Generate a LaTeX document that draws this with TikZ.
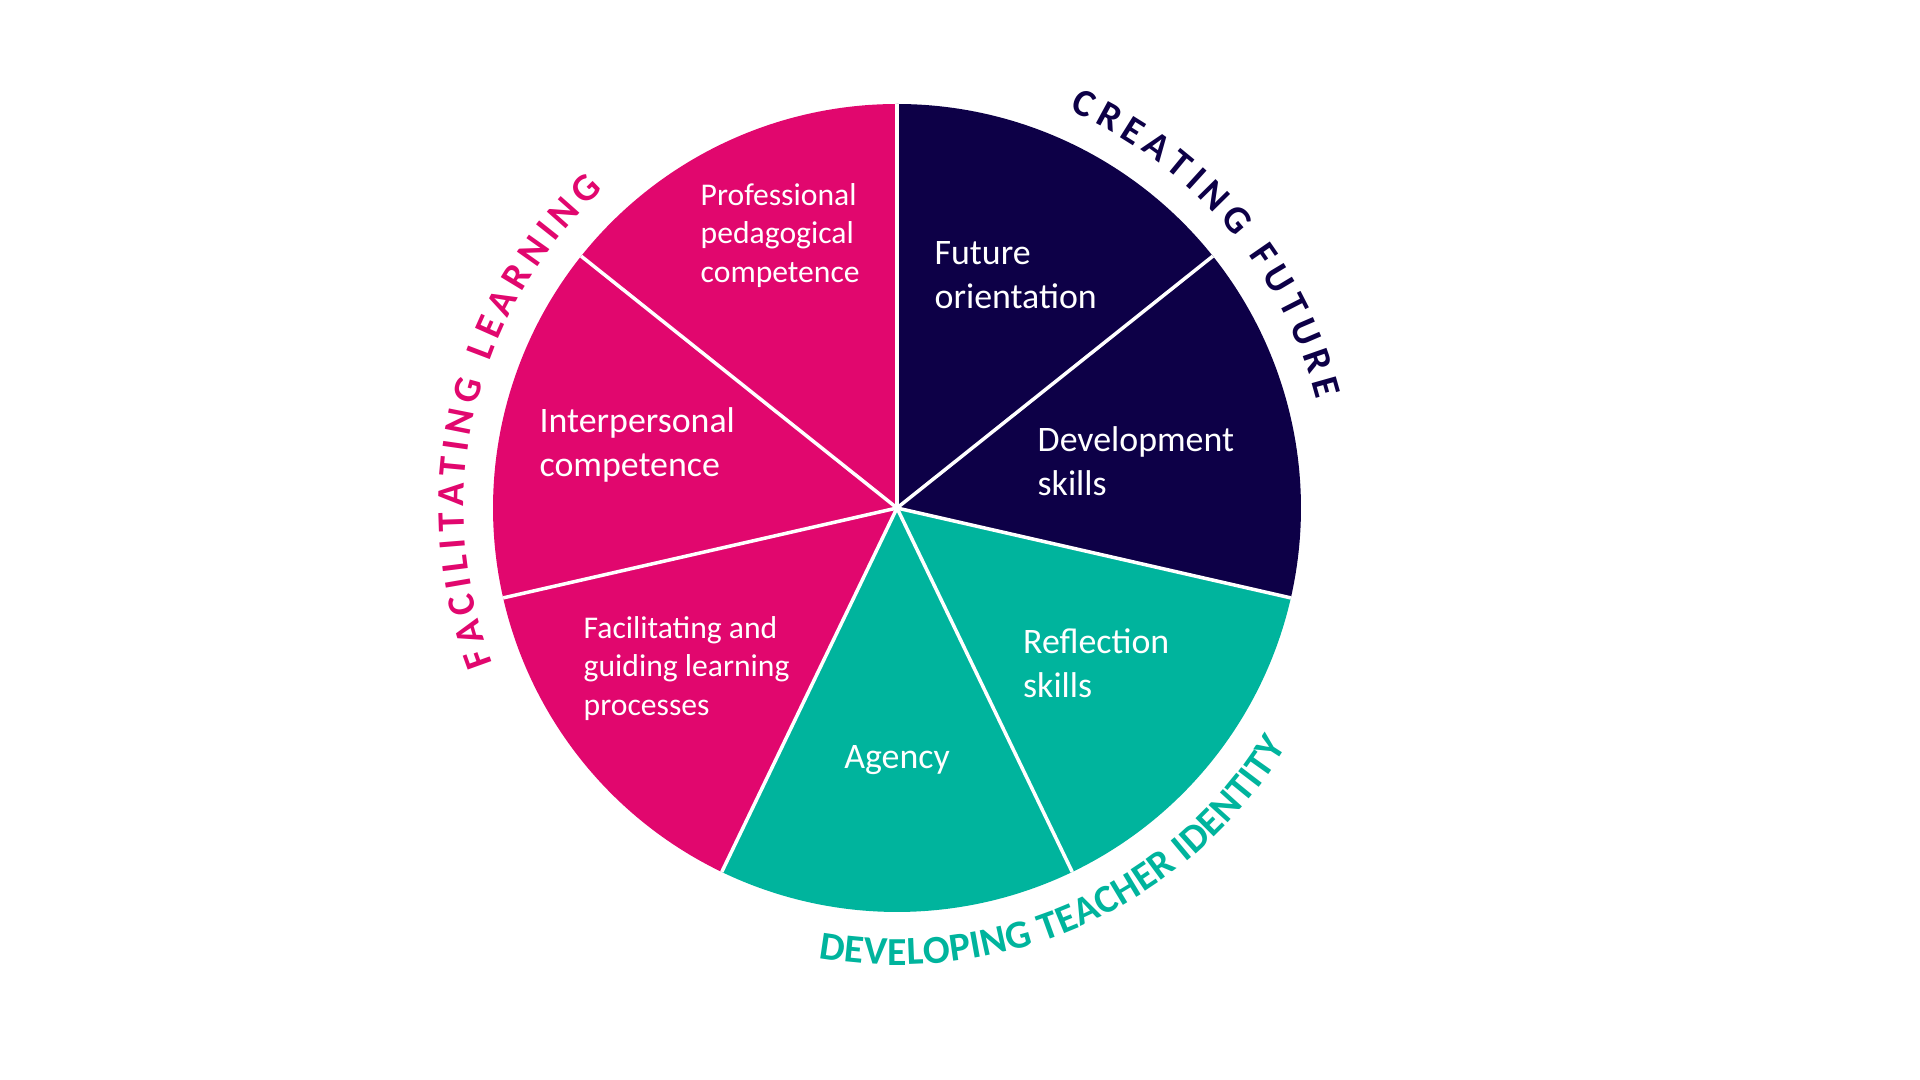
\documentclass[tikz,border=0pt]{standalone}
\usepackage{fontspec}
\setmainfont{Carlito}
\usetikzlibrary{decorations.text}
\definecolor{cfuture}{HTML}{0D0047}
\definecolor{cidentity}{HTML}{00B49D}
\definecolor{clearning}{HTML}{E1076E}
\tikzset{
	lbl/.style={text=white, anchor=west, align=left, inner sep=0pt, font=\fontsize{10.2}{12.5}\selectfont},
	lbls/.style={lbl, font=\fontsize{9}{11}\selectfont},
	sep/.style={draw=white, line width=1pt},
	arctext/.style={decorate, decoration={text along path, text align=fit to path, text color=#1}}
}
\begin{document}
\begin{tikzpicture}
	\useasboundingbox (-8.97,-5.72) rectangle (10.23,5.08);
	\coordinate (c) at (0,0);
	\coordinate (r1) at (90:4.04);
	\coordinate (r2) at (38.57:4.04);
	\coordinate (r3) at (-12.86:4.04);
	\coordinate (r4) at (-64.29:4.04);
	\coordinate (r5) at (-115.71:4.04);
	\coordinate (r6) at (-167.14:4.04);
	\coordinate (r7) at (141.43:4.04);
	\fill[cfuture] (c) -- (r1) arc[start angle=90, end angle=38.57, radius=4.04] -- cycle;
	\fill[cfuture] (c) -- (r2) arc[start angle=38.57, end angle=-12.86, radius=4.04] -- cycle;
	\fill[cidentity] (c) -- (r3) arc[start angle=-12.86, end angle=-64.29, radius=4.04] -- cycle;
	\fill[cidentity] (c) -- (r4) arc[start angle=-64.29, end angle=-115.71, radius=4.04] -- cycle;
	\fill[clearning] (c) -- (r5) arc[start angle=-115.71, end angle=-167.14, radius=4.04] -- cycle;
	\fill[clearning] (c) -- (r6) arc[start angle=192.86, end angle=141.43, radius=4.04] -- cycle;
	\fill[clearning] (c) -- (r7) arc[start angle=141.43, end angle=90, radius=4.04] -- cycle;
	\path [sep] (c) edge (r1);
	\path [sep] (c) edge (r2);
	\path [sep] (c) edge (r3);
	\path [sep] (c) edge (r4);
	\path [sep] (c) edge (r5);
	\path [sep] (c) edge (r6);
	\path [sep] (c) edge (r7);
	\node[lbl] (fut) at (0.37,2.325) {Future\\orientation};
	\node[lbl] (dev) at (1.40,0.465) {Development\\skills};
	\node[lbl] (ref) at (1.255,-1.555) {Reflection\\skills};
	\node[lbl, anchor=center] (agn) at (0,-2.52) {Agency};
	\node[lbls] (fac) at (-3.14,-1.605) {Facilitating and\\guiding learning\\processes};
	\node[lbl] (int) at (-3.58,0.635) {Interpersonal\\competence};
	\node[lbls] (pro) at (-1.97,2.725) {Professional\\pedagogical\\competence};
	\path [arctext=cfuture, decoration={text={|\fontsize{11}{13}\selectfont\bfseries|CREATING FUTURE}}]
		(66.5:4.33) arc[start angle=66.5, end angle=14.5, radius=4.33];
	\path [arctext=clearning, decoration={text={|\fontsize{11}{13}\selectfont\bfseries|FACILITATING LEARNING}}]
		(201:4.33) arc[start angle=201, end angle=132.7, radius=4.33];
	\path [arctext=cidentity, decoration={text={|\fontsize{11.3}{13}\selectfont\bfseries|DEVELOPING TEACHER IDENTITY}}]
		(260.1:4.57) arc[start angle=260.1, end angle=328.5, radius=4.57];
\end{tikzpicture}
\end{document}
